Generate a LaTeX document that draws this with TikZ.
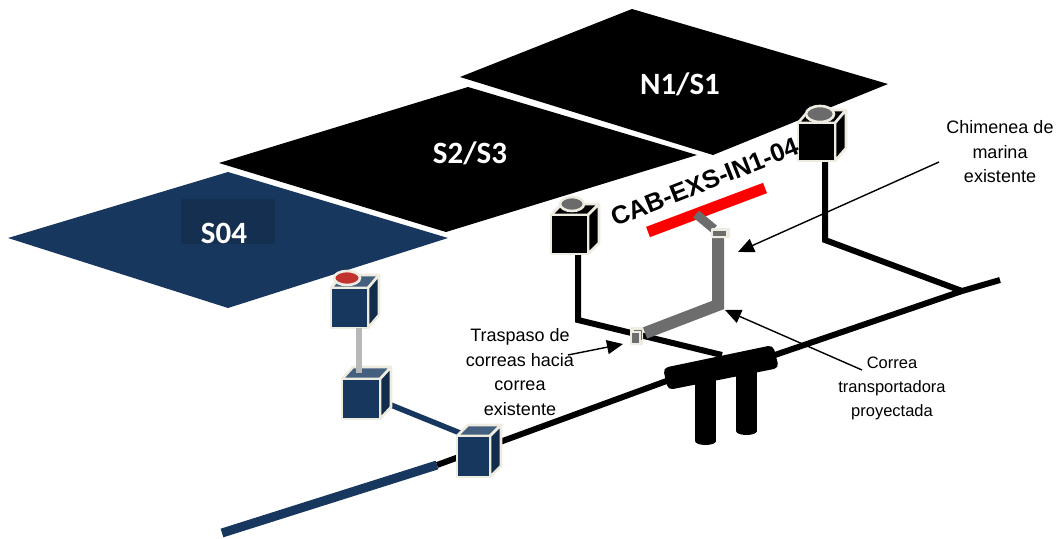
\documentclass[tikz,border=0pt]{standalone}
\usepackage{fontspec}
\setmainfont{Liberation Sans}
\newfontfamily\calib{Carlito}
\usetikzlibrary{arrows.meta}
\definecolor{navy}{HTML}{17375E}
\definecolor{navydark}{HTML}{152F50}
\definecolor{navyside}{HTML}{122C4B}
\definecolor{navytop}{HTML}{45607F}
\definecolor{cream}{HTML}{EEECE1}
\definecolor{beltgray}{HTML}{6D6D6D}
\definecolor{capgray}{HTML}{6B6B6B}
\definecolor{pale}{HTML}{B8B8B8}
\definecolor{capred}{HTML}{C0332E}
\tikzset{
 platelabel/.style={text=white,font=\calib\bfseries\fontsize{31}{31}\selectfont,inner sep=0pt},
 note/.style={font=\fontsize{18}{24.5}\selectfont,align=center,inner sep=0pt,text=black},
 pointer/.style={draw=black,line width=1.4pt,-{Triangle[length=16pt,width=14pt]}},
 heavy/.style={draw=black,line width=6pt},
 facef/.style={draw=cream,line width=2.6pt,line join=round},
}
\newcommand{\cubetop}{black}
\newcommand{\cubebox}[9]{%
 \path[facef,fill=\cubetop] (#2,#3) -- ++(#6,-#7) -- ++(#4,0) -- ++(-#6,#7) -- cycle;
 \path[facef,fill=#9] (#2+#4,#3) -- ++(#6,-#7) -- ++(0,#5) -- ++(-#6,#7) -- cycle;
 \path[facef,fill=#8] (#2,#3) rectangle ++(#4,#5);
 \coordinate (#1) at (#2+#4/2,#3+#5/2);
}
\begin{document}
\begin{tikzpicture}[x=1pt,y=-1pt]
\useasboundingbox (0,0) rectangle (1059,538);
% plates
\fill[navy] (228,172) -- (448,238) -- (228,308) -- (8,238) -- cycle;
\fill[black] (219,163) -- (468,87) -- (697,155) -- (446,232) -- cycle;
\fill[black] (632,9) -- (888,84) -- (713,155) -- (460,77) -- cycle;
\node[platelabel] (n1) at (680,84) {N1/S1};
\node[platelabel] (s2) at (470,153) {S2/S3};
\fill[navydark] (181,199) rectangle (275,244);
\begin{scope}
\clip (150,170) rectangle (300,244);
\node[platelabel] (s4) at (224,233) {S04};
\end{scope}
% coordinates of the network
\coordinate (lbend) at (578,320);
\coordinate (tjoin) at (722,355);
\coordinate (rbend) at (825,240);
\coordinate (rend) at (962,291);
\coordinate (mainR) at (1000,280);
\coordinate (mainL) at (437,465);
\coordinate (navyL) at (222,533);
\coordinate (bar1) at (672,379);
\coordinate (bar2) at (769,357);
% black lines
\draw[heavy] (mainR) -- (rend) -- (bar2);
\draw[heavy] (bar1) -- (mainL);
\draw[heavy,line join=miter] (578,254) -- (lbend) -- (tjoin);
\draw[heavy,line join=miter] (825,161) -- (rbend) -- (rend);
\draw[draw=navy,line width=9pt] (navyL) -- (mainL);
% pipes
\fill[black,rounded corners=5pt] (663,368) -- (773,345) -- (779,368) -- (668,390) -- cycle;
\fill[black] (695,380) rectangle (716,441);
\fill[black] (705.5,441) ellipse [x radius=10.5,y radius=4];
\fill[black] (736,365) rectangle (757,431);
\fill[black] (746.5,431) ellipse [x radius=10.5,y radius=4];
% conveyor
\draw[draw=red,line width=11pt] (648,232) -- (765,188);
\draw[draw=beltgray,line width=9pt] (714,229) -- (696,214);
\draw[draw=beltgray,line width=12pt,line join=miter] (718,236) -- (718,305) -- (645,333);
% connectors between cubes
\draw[draw=navy,line width=5.5pt] (391,405) -- (460,433);
% cubes
\renewcommand{\cubetop}{black}
\cubebox{cbA}{798}{123}{37}{38}{11}{13}{black}{black}
\path[fill=capgray,draw=cream,line width=2.6pt] (820,114) ellipse [x radius=14,y radius=8];
\cubebox{cbB}{551}{215}{37}{39}{11}{11}{black}{black}
\path[fill=capgray,draw=cream,line width=2.6pt] (572,204) ellipse [x radius=12,y radius=7];
\renewcommand{\cubetop}{navytop}
\cubebox{cbC}{331}{288}{37}{40}{11}{13}{navy}{navyside}
\path[fill=capred,draw=cream,line width=2.6pt] (347,278) ellipse [x radius=13,y radius=7];
\cubebox{cbD}{342}{379}{38}{40}{11}{12}{navy}{navyside}
\cubebox{cbE}{457}{436}{33}{41}{11}{11}{navy}{navyside}
\draw[draw=pale,line width=6pt] (359,328) -- (359,373);
% tiny transfer boxes
\fill[cream,rounded corners=1pt] (630,327) rectangle (643,345);
\fill[beltgray] (632,333) rectangle (639,343);
\draw[beltgray,line width=.6pt] (634,330) -- (641,330) -- (641,340);
\fill[cream,rounded corners=1pt] (711,228) rectangle (730,238);
\fill[beltgray] (713,231) rectangle (726,236);
% labels
\node[rotate=21.5,font=\bfseries\fontsize{25.5}{26}\selectfont,inner sep=0pt] (cab) at (705,182) {CAB-EXS-IN1-04};
\node[note] (chim) at (1000,152) {Chimenea de\\marina\\existente};
\node[note,font=\fontsize{16.5}{24}\selectfont] (corr) at (892,388) {Correa\\transportadora\\proyectada};
\node[note] (tras) at (520,372) {Traspaso de\\correas hacia\\correa\\existente};
% pointers
\coordinate (tChim) at (939,162);
\coordinate (pChim) at (738,252);
\coordinate (tCorr) at (862,370);
\coordinate (pCorr) at (725,310);
\coordinate (tTras) at (568,355);
\coordinate (pTras) at (623,344);
\draw[pointer] (tChim) -- (pChim);
\draw[pointer] (tCorr) -- (pCorr);
\draw[pointer] (tTras) -- (pTras);
\end{tikzpicture}
\end{document}
